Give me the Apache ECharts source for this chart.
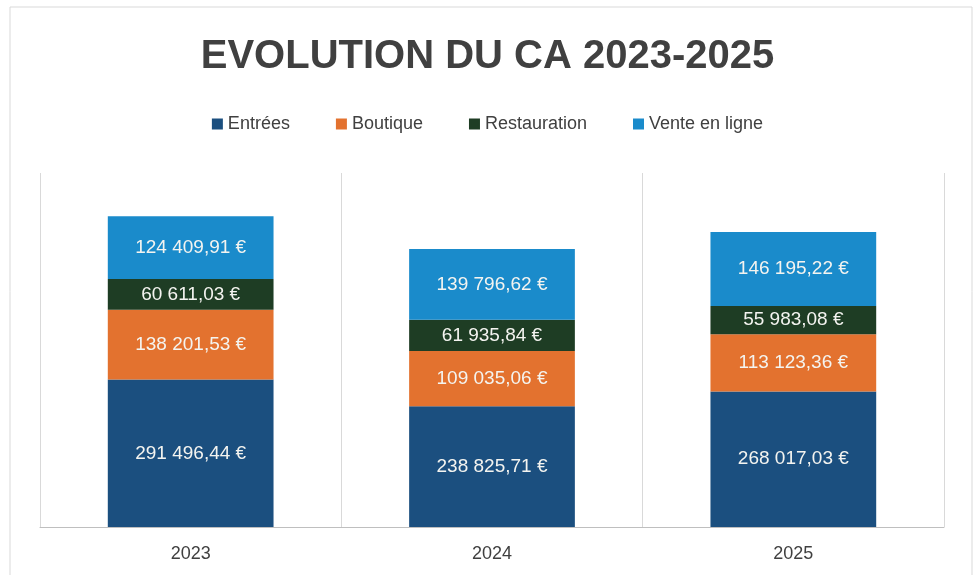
<!DOCTYPE html>
<html>
<head>
<meta charset="utf-8">
<script src="https://cdn.jsdelivr.net/npm/echarts@6/dist/echarts.min.js"></script>
<style>
  html, body { margin: 0; padding: 0; background: #fff; }
  #chart { width: 975px; height: 575px; }
</style>
</head>
<body>
<div id="chart"></div>
<script>
var years = ['2023', '2024', '2025'];
var entrees = [291496.44, 238825.71, 268017.03];
var boutique = [138201.53, 109035.06, 113123.36];
var restauration = [60611.03, 61935.84, 55983.08];
var venteEnLigne = [124409.91, 139796.62, 146195.22];

var colors = ['#1b4f7f', '#e3722f', '#1e3d24', '#1a8bcb'];
var font = '"Liberation Sans", Arial, sans-serif';

// format "291 496,44 €"
function euro(v) {
    var parts = v.toFixed(2).split('.');
    var ent = parts[0].replace(/\B(?=(\d{3})+(?!\d))/g, ' ');
    return ent + ',' + parts[1] + ' €';
}

function serie(name, data, color) {
    return {
        name: name,
        type: 'bar',
        stack: 'ca',
        barWidth: '55%',
        data: data,
        itemStyle: { color: color },
        label: {
            show: true,
            position: 'inside',
            color: '#f4f4f0',
            fontFamily: font,
            fontSize: 19,
            formatter: function (p) { return euro(p.value); }
        }
    };
}

var chart = echarts.init(document.getElementById('chart'));
chart.setOption({
    animation: false,
    color: colors,
    graphic: [{
        type: 'rect',
        shape: { x: 10, y: 7, width: 962, height: 580 },
        style: { fill: 'none', stroke: '#d9d9d9', lineWidth: 1 },
        silent: true
    }],
    title: {
        text: 'EVOLUTION DU CA 2023-2025',
        left: 'center',
        top: 32,
        textStyle: { fontFamily: font, fontSize: 40, fontWeight: 'bold', color: '#404040' }
    },
    legend: {
        top: 110,
        left: 'center',
        itemWidth: 11,
        itemHeight: 11,
        itemGap: 46,
        icon: 'rect',
        textStyle: { fontFamily: font, fontSize: 18, color: '#404040' },
        data: ['Entrées', 'Boutique', 'Restauration', 'Vente en ligne']
    },
    grid: { left: 40, right: 31, top: 173, bottom: 48 },
    xAxis: {
        type: 'category',
        data: years,
        axisTick: { show: false },
        axisLine: { lineStyle: { color: '#bfbfbf' } },
        axisLabel: { margin: 18, fontFamily: font, fontSize: 18, color: '#404040' },
        splitLine: { show: true, lineStyle: { color: '#d9d9d9' } }
    },
    yAxis: {
        type: 'value',
        min: 0,
        max: 700000,
        show: false
    },
    series: [
        serie('Entrées', entrees, colors[0]),
        serie('Boutique', boutique, colors[1]),
        serie('Restauration', restauration, colors[2]),
        serie('Vente en ligne', venteEnLigne, colors[3])
    ]
});
</script>
</body>
</html>
